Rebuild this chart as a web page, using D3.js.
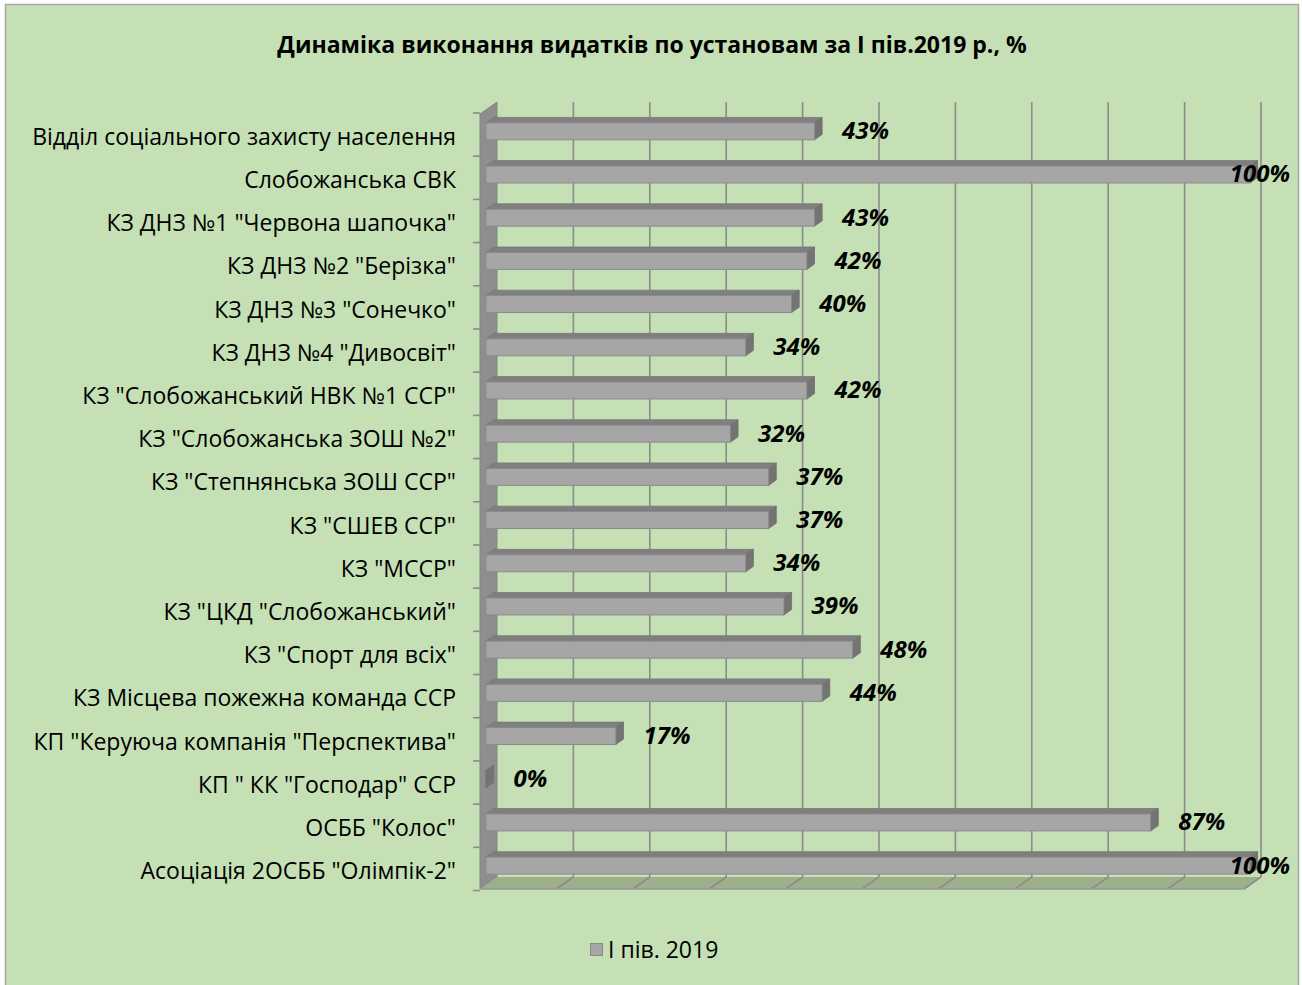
<!DOCTYPE html>
<html>
<head>
<meta charset="utf-8">
<script src="https://cdn.jsdelivr.net/npm/d3@7"></script>
<style>
  body { margin: 0; background: #fff; }
  svg { display: block; font-family: "Open Sans", "Noto Sans", sans-serif; }
</style>
</head>
<body>
<svg width="1302" height="985"></svg>
<script>
const categories = [
    'Відділ соціального захисту населення',
    'Слобожанська СВК',
    'КЗ ДНЗ №1 "Червона шапочка"',
    'КЗ ДНЗ №2 "Берізка"',
    'КЗ ДНЗ №3 "Сонечко"',
    'КЗ ДНЗ №4 "Дивосвіт"',
    'КЗ "Слобожанський НВК №1 ССР"',
    'КЗ "Слобожанська ЗОШ №2"',
    'КЗ "Степнянська ЗОШ ССР"',
    'КЗ "СШЕВ ССР"',
    'КЗ "МССР"',
    'КЗ "ЦКД "Слобожанський"',
    'КЗ "Спорт для всіх"',
    'КЗ Місцева пожежна команда ССР',
    'КП "Керуюча компанія "Перспектива"',
    'КП " КК "Господар" ССР',
    'ОСББ "Колос"',
    'Асоціація 2ОСББ "Олімпік-2"'
]
const values = [0.43, 1.00, 0.43, 0.42, 0.40, 0.34, 0.42, 0.32, 0.37, 0.37, 0.34, 0.39, 0.48, 0.44, 0.17, 0.00, 0.87, 1.00]
const xTicks = [0, 0.1, 0.2, 0.3, 0.4, 0.5, 0.6, 0.7, 0.8, 0.9, 1.0]
const seriesName = 'І пів. 2019'
const title = 'Динаміка виконання видатків по установам за І пів.2019 р., %'

const data = categories.map((name, i) => ({name, value: values[i]}))

const svg = d3.select('svg')

// chart area
svg.append('rect')
    .attr('x', 5.5).attr('y', 4.5)
    .attr('width', 1293).attr('height', 1000)
    .attr('fill', '#c5e0b4')
    .attr('stroke', '#a6a6a6')
    .attr('stroke-width', 1.5)

svg.append('text')
    .attr('x', 652).attr('y', 53)
    .attr('text-anchor', 'middle')
    .attr('font-weight', 'bold')
    .attr('font-size', 23)
    .attr('fill', '#000')
    .text(title)

// back wall plane
const wallTop = 102, wallBottom = 877
// depth vector, back -> front
const depth = {x: -17, y: 12}
const barBack = {x: depth.x * 0.2, y: depth.y * 0.2}
const barFront = {x: depth.x * 0.65, y: depth.y * 0.65}
const barH = 17

const xScale = d3.scaleLinear()
    .domain([0, 1])
    .range([497, 1261])

const yScale = d3.scaleBand()
    .domain(categories)
    .range([101, 878.5])

const chart = svg.append('g')

// left wall
chart.append('polygon')
    .attr('points', [
        [xScale(0), wallTop], [xScale(0), wallBottom],
        [xScale(0) + depth.x, wallBottom + depth.y], [xScale(0) + depth.x, wallTop + depth.y]
    ].join(' '))
    .attr('fill', '#8e8e8e')
    .attr('stroke', '#858585')

// floor
chart.append('polygon')
    .attr('points', [
        [xScale(0), wallBottom], [xScale(1), wallBottom],
        [xScale(1) + depth.x, wallBottom + depth.y], [xScale(0) + depth.x, wallBottom + depth.y]
    ].join(' '))
    .attr('fill', '#9cb08b')

// grid lines on the back wall and the floor
const grid = chart.append('g')
    .attr('stroke', '#8c8c8c')
    .attr('stroke-width', 1.6)
    .attr('fill', 'none')

grid.selectAll('.vgrid')
    .data(xTicks.slice(1))
    .enter()
    .append('line')
    .attr('x1', d => xScale(d)).attr('x2', d => xScale(d))
    .attr('y1', wallTop).attr('y2', wallBottom)

grid.selectAll('.fgrid')
    .data(xTicks.slice(1))
    .enter()
    .append('line')
    .attr('x1', d => xScale(d)).attr('x2', d => xScale(d) + depth.x)
    .attr('y1', wallBottom).attr('y2', wallBottom + depth.y)

// category tick marks on the front edge of the wall
const yTickPos = categories.map(c => yScale(c)).concat([yScale.range()[1]])
grid.selectAll('.ytick')
    .data(yTickPos)
    .enter()
    .append('line')
    .attr('x1', xScale(0) + depth.x - 7).attr('x2', xScale(0) + depth.x)
    .attr('y1', d => d + depth.y).attr('y2', d => d + depth.y)

grid.append('line')
    .attr('x1', xScale(0) + depth.x).attr('x2', xScale(1) + depth.x)
    .attr('y1', wallBottom + depth.y).attr('y2', wallBottom + depth.y)
    .attr('stroke', '#9a9a9a')

// bars
const barGroups = chart.selectAll('.bar')
    .data(data)
    .enter()
    .append('g')
    .attr('class', 'bar')

const yb = d => yScale(d.name) + 14
const barMid = d => yb(d) + barFront.y + barH / 2

barGroups.append('polygon')
    .attr('points', d => [
        [xScale(0) + barFront.x, yb(d) + barFront.y], [xScale(d.value) + barFront.x, yb(d) + barFront.y],
        [xScale(d.value) + barBack.x, yb(d) + barBack.y], [xScale(0) + barBack.x, yb(d) + barBack.y]
    ].join(' '))
    .attr('fill', '#7f7f7f')
    .attr('stroke', '#777')
    .attr('stroke-width', 0.8)

barGroups.append('polygon')
    .attr('points', d => [
        [xScale(d.value) + barFront.x, yb(d) + barFront.y], [xScale(d.value) + barBack.x, yb(d) + barBack.y],
        [xScale(d.value) + barBack.x, yb(d) + barH + barBack.y], [xScale(d.value) + barFront.x, yb(d) + barH + barFront.y]
    ].join(' '))
    .attr('fill', '#747474')
    .attr('stroke', '#6e6e6e')
    .attr('stroke-width', 0.8)

barGroups.append('rect')
    .attr('x', xScale(0) + barFront.x)
    .attr('y', d => yb(d) + barFront.y)
    .attr('width', d => xScale(d.value) - xScale(0))
    .attr('height', barH)
    .attr('fill', '#a6a6a6')
    .attr('stroke', '#8a8a8a')
    .attr('stroke-width', 1)

// value labels
barGroups.append('text')
    .attr('class', 'value')
    .attr('font-size', 24)
    .attr('font-weight', 'bold')
    .attr('font-style', 'italic')
    .attr('fill', '#000')
    .attr('y', d => barMid(d) + 8)
    .text(d => `${Math.round(d.value * 100)}%`)
    .each(function (d) {
        const w = this.getComputedTextLength()
        let x = xScale(d.value) + barBack.x + 20
        if (x + w > 1222) x = Math.max(1222 - w, Math.min(x, 1290 - w))
        d3.select(this).attr('x', x)
    })

// category labels
chart.selectAll('.cat')
    .data(data)
    .enter()
    .append('text')
    .attr('x', 456)
    .attr('y', d => barMid(d) + 13.5)
    .attr('text-anchor', 'end')
    .attr('font-size', 23)
    .attr('fill', '#000')
    .text(d => d.name)

// legend
const legend = svg.append('g')
legend.append('rect')
    .attr('x', 590.5).attr('y', 943.5)
    .attr('width', 12).attr('height', 12)
    .attr('fill', '#a6a6a6')
    .attr('stroke', '#8a8a8a')
legend.append('text')
    .attr('x', 608).attr('y', 958)
    .attr('font-size', 23)
    .attr('fill', '#000')
    .text(seriesName)
</script>
</body>
</html>
